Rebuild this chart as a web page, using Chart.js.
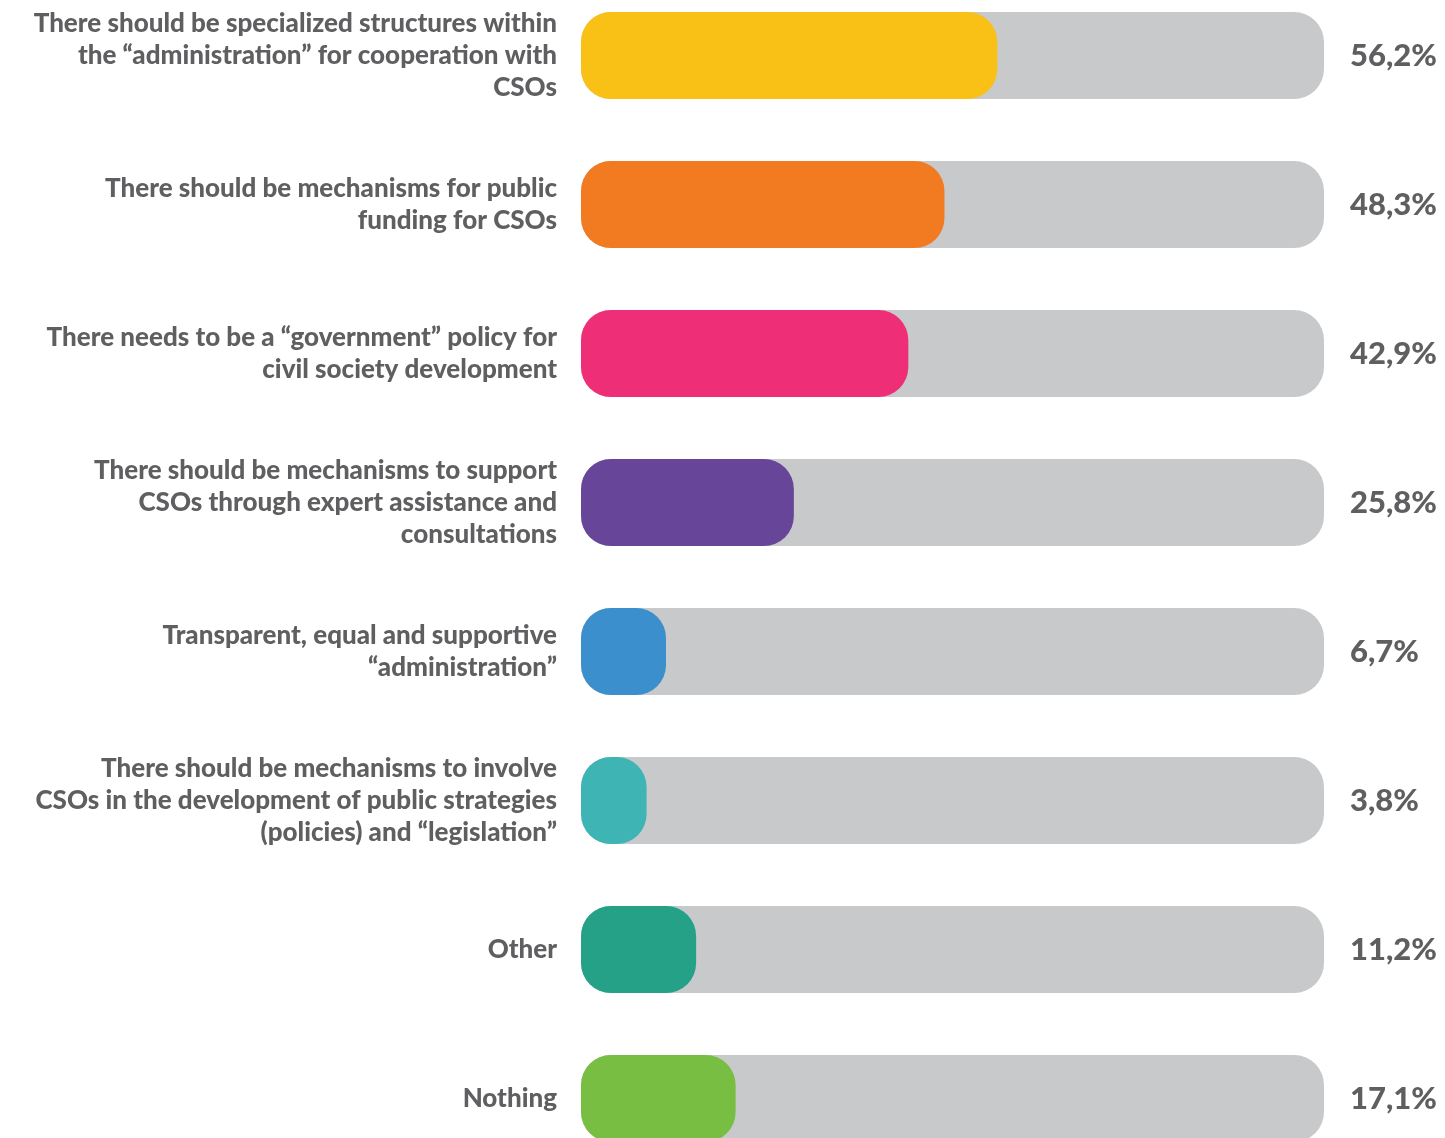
<!DOCTYPE html>
<html>
<head>
<meta charset="utf-8">
<script src="https://cdn.jsdelivr.net/npm/chart.js@4/dist/chart.umd.min.js"></script>
<style>
  html, body { margin: 0; padding: 0; background: #fff; overflow: hidden; }
  #wrap { position: absolute; left: 0; top: -19px; width: 1445px; height: 1192px; }
</style>
</head>
<body>
<div id="wrap"><canvas id="chart"></canvas></div>
<script>
const categories = [
    ['There should be specialized structures within', 'the \u201cadministration\u201d for cooperation with', 'CSOs'],
    ['There should be mechanisms for public', 'funding for CSOs'],
    ['There needs to be a \u201cgovernment\u201d policy for', 'civil society development'],
    ['There should be mechanisms to support', 'CSOs through expert assistance and', 'consultations'],
    ['Transparent, equal and supportive', '\u201cadministration\u201d'],
    ['There should be mechanisms to involve', 'CSOs in the development of public strategies', '(policies) and \u201clegislation\u201d'],
    'Other',
    'Nothing'
];
const values = [56.2, 48.3, 42.9, 25.8, 6.7, 3.8, 11.2, 17.1];
const barColors = ['#F9C015', '#F27A21', '#EE2F78', '#674599', '#3B8FCC', '#3EB4B5', '#24A186', '#78BE43'];

// rounded caps sit a little before zero, so the axis starts below it
const AXIS_MIN = -6;
const AXIS_MAX = 105;

const textColor = '#5f5f61';

const percentLabels = {
    id: 'percentLabels',
    afterDatasetsDraw(chart) {
        const { ctx, chartArea, scales } = chart;
        ctx.save();
        ctx.fillStyle = textColor;
        ctx.font = '900 31px Lato, "Open Sans", sans-serif';
        ctx.textAlign = 'left';
        ctx.textBaseline = 'middle';
        values.forEach((v, i) => {
            const y = scales.y.getPixelForValue(i);
            ctx.fillText(v.toFixed(1).replace('.', ',') + '%', chartArea.right + 26, y);
        });
        ctx.restore();
    }
};

new Chart(document.getElementById('chart'), {
    type: 'bar',
    data: {
        labels: categories,
        datasets: [
            {
                data: values,
                base: AXIS_MIN,
                backgroundColor: barColors,
                borderRadius: 30,
                borderSkipped: false,
                grouped: false,
                order: 0,
                categoryPercentage: 1,
                barPercentage: 0.584
            },
            {
                data: values.map(() => AXIS_MAX),
                base: AXIS_MIN,
                backgroundColor: '#C8C9CB',
                borderRadius: 30,
                borderSkipped: false,
                grouped: false,
                order: 1,
                categoryPercentage: 1,
                barPercentage: 0.584
            }
        ]
    },
    options: {
        indexAxis: 'y',
        responsive: true,
        maintainAspectRatio: false,
        animation: false,
        layout: { padding: { left: 0, right: 121, top: 0, bottom: 0 } },
        plugins: { legend: { display: false }, tooltip: { enabled: false } },
        scales: {
            x: {
                display: false,
                min: AXIS_MIN,
                max: AXIS_MAX
            },
            y: {
                grid: { display: false, drawTicks: false },
                border: { display: false },
                ticks: {
                    padding: 24,
                    color: textColor,
                    font: { family: 'Lato, "Open Sans", sans-serif', size: 26, weight: '900', lineHeight: 32 / 26 }
                },
                afterFit(scale) {
                    scale.width = 581;
                    // multi-line labels would otherwise push the plot area inward
                    scale.paddingTop = 0;
                    scale.paddingBottom = 0;
                }
            }
        }
    },
    plugins: [percentLabels]
});
</script>
</body>
</html>
